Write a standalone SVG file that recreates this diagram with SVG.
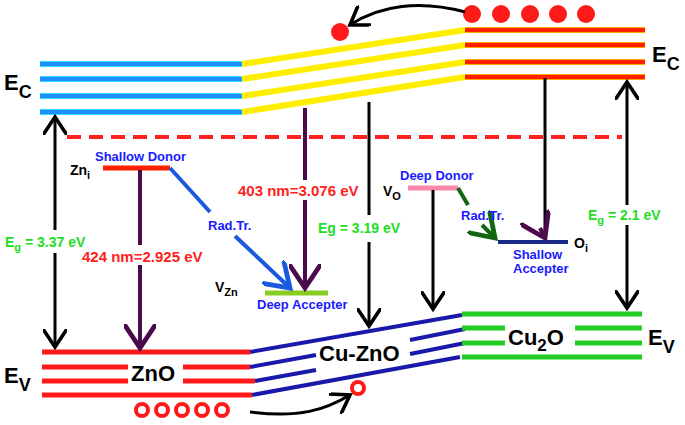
<svg xmlns="http://www.w3.org/2000/svg" width="685" height="425" viewBox="0 0 685 425">
<style>
text{font-family:"Liberation Sans",Arial,sans-serif;font-weight:bold}
.big{font-size:22px;fill:#000}
.lbl{font-size:13px;fill:#1a1aff}
.red{font-size:15px;fill:#ff2020}
.grn{font-size:14px;fill:#22dd22}
.cb{stroke:#1e90ff;stroke-width:4}
.cbo{stroke:#33ddff;stroke-width:6}
.yl{stroke:#ffee00;stroke-width:6}
.rc{stroke:#ff2000;stroke-width:4}
.rco{stroke:#ffaa00;stroke-width:6}
.vr{stroke:#ff1a1a;stroke-width:5}
.bl{stroke:#1a1aaa;stroke-width:4}
.gr{stroke:#22cc22;stroke-width:5}
.k{stroke:#000;stroke-width:3;fill:none}
.p{stroke:#4b0a4b;stroke-width:4;fill:none}
</style>
<defs>
<marker id="ak" markerWidth="8" markerHeight="8" refX="6" refY="4" orient="auto" markerUnits="strokeWidth"><path d="M0,0 L6,4 L0,8" fill="none" stroke="#000" stroke-width="1.2"/></marker>
<marker id="ap" markerWidth="8" markerHeight="8" refX="6" refY="4" orient="auto" markerUnits="strokeWidth"><path d="M0,0 L6,4 L0,8" fill="none" stroke="#4b0a4b" stroke-width="1.2"/></marker>
<marker id="ab" markerWidth="8" markerHeight="8" refX="6" refY="4" orient="auto" markerUnits="strokeWidth"><path d="M0,0 L6,4 L0,8" fill="none" stroke="#1a5adf" stroke-width="1.2"/></marker>
<marker id="ag" markerWidth="8" markerHeight="8" refX="6" refY="4" orient="auto" markerUnits="strokeWidth"><path d="M0,0 L6,4 L0,8" fill="none" stroke="#116611" stroke-width="1.2"/></marker>
</defs>
<rect width="685" height="425" fill="#fff"/>
<g id="zno-cb">
<g class="cbo"><line x1="40" y1="64" x2="242" y2="64"/><line x1="40" y1="79" x2="242" y2="79"/><line x1="40" y1="96" x2="242" y2="96"/><line x1="40" y1="112" x2="242" y2="112"/></g>
<g class="cb"><line x1="40" y1="64" x2="242" y2="64"/><line x1="40" y1="79" x2="242" y2="79"/><line x1="40" y1="96" x2="242" y2="96"/><line x1="40" y1="112" x2="242" y2="112"/></g>
<text class="big" x="4" y="90">E<tspan font-size="18" dy="8">C</tspan></text>
</g>
<g id="cuzno-cb" class="yl"><line x1="242" y1="64" x2="465" y2="30"/><line x1="242" y1="79" x2="465" y2="45"/><line x1="242" y1="96" x2="465" y2="62"/><line x1="242" y1="112" x2="465" y2="77"/></g>
<g id="cu2o-cb">
<g class="rco"><line x1="465" y1="30" x2="645" y2="30"/><line x1="465" y1="45" x2="645" y2="45"/><line x1="465" y1="62" x2="645" y2="62"/><line x1="465" y1="77" x2="645" y2="77"/></g>
<g class="rc"><line x1="465" y1="30" x2="645" y2="30"/><line x1="465" y1="45" x2="645" y2="45"/><line x1="465" y1="62" x2="645" y2="62"/><line x1="465" y1="77" x2="645" y2="77"/></g>
<text class="big" x="652" y="62">E<tspan font-size="18" dy="8">C</tspan></text>
</g>
<g id="fermi"><line x1="67" y1="137" x2="622" y2="137" stroke="#ff2020" stroke-width="4" stroke-dasharray="14,8"/></g>
<g id="zno-vb">
<g class="vr"><line x1="42" y1="352" x2="250" y2="352"/><line x1="42" y1="367" x2="128" y2="367"/><line x1="183" y1="367" x2="250" y2="367"/><line x1="42" y1="381" x2="128" y2="381"/><line x1="183" y1="381" x2="255" y2="381"/><line x1="42" y1="395" x2="252" y2="395"/></g>
<text class="big" x="131" y="381">ZnO</text>
<text class="big" x="4" y="383">E<tspan font-size="18" dy="8">V</tspan></text>
</g>
<g id="cuzno-vb">
<g class="bl"><line x1="250" y1="352" x2="462" y2="315"/><line x1="250" y1="367" x2="316" y2="355"/><line x1="410" y1="340" x2="465" y2="329"/><line x1="255" y1="381" x2="316" y2="370"/><line x1="410" y1="354" x2="465" y2="343"/><line x1="252" y1="395" x2="460" y2="357"/></g>
<text class="big" x="319" y="361">Cu-ZnO</text>
</g>
<g id="cu2o-vb">
<g class="gr"><line x1="462" y1="314" x2="642" y2="314"/><line x1="462" y1="328" x2="505" y2="328"/><line x1="575" y1="328" x2="642" y2="328"/><line x1="462" y1="343" x2="505" y2="343"/><line x1="575" y1="343" x2="642" y2="343"/><line x1="462" y1="357" x2="642" y2="357"/></g>
<text class="big" x="508" y="345">Cu<tspan font-size="17" dy="6">2</tspan><tspan dy="-6">O</tspan></text>
<text class="big" x="648" y="345">E<tspan font-size="18" dy="8">V</tspan></text>
</g>
<g id="electrons" fill="#ff1a1a"><circle cx="472" cy="14" r="9"/><circle cx="501" cy="14" r="9"/><circle cx="530" cy="14" r="9"/><circle cx="558" cy="14" r="9"/><circle cx="586" cy="14" r="9"/><circle cx="340" cy="32" r="9"/></g>
<g id="holes" fill="none" stroke="#ff1a1a" stroke-width="4"><circle cx="142" cy="410" r="6"/><circle cx="162" cy="410" r="6"/><circle cx="182" cy="410" r="6"/><circle cx="202" cy="410" r="6"/><circle cx="222" cy="410" r="6"/><circle cx="358" cy="388" r="6"/></g>
<g id="zni"><line x1="103" y1="168" x2="170" y2="168" stroke="#ff2000" stroke-width="5"/><text class="lbl" x="95" y="161">Shallow Donor</text><text x="70" y="175" font-size="14" fill="#000">Zn<tspan font-size="11" dy="4">i</tspan></text></g>
<g id="vzn"><line x1="265" y1="293" x2="328" y2="293" stroke="#88cc22" stroke-width="5"/><text x="215" y="292" font-size="14" fill="#000">V<tspan font-size="11" dy="4">Zn</tspan></text><text class="lbl" x="257" y="309">Deep Accepter</text></g>
<g id="vo"><line x1="408" y1="188" x2="458" y2="188" stroke="#ff88aa" stroke-width="5"/><text class="lbl" x="400" y="180">Deep Donor</text><text x="383" y="196" font-size="14" fill="#000">V<tspan font-size="11" dy="4">O</tspan></text></g>
<g id="oi"><line x1="498" y1="242" x2="568" y2="242" stroke="#1a2a88" stroke-width="4"/><text x="574" y="248" font-size="14" fill="#000">O<tspan font-size="11" dy="4">i</tspan></text><text class="lbl" x="513" y="259">Shallow</text><text class="lbl" x="513" y="273">Accepter</text></g>
<g id="connectors">
<path class="k" d="M465,12 C420,0 380,5 350,25" marker-end="url(#ak)"/>
<path class="k" d="M250,412 C300,418 325,410 350,395" marker-end="url(#ak)"/>
<line class="k" x1="55" y1="230" x2="55" y2="117" marker-end="url(#ak)"/>
<line class="k" x1="55" y1="253" x2="55" y2="347" marker-end="url(#ak)"/>
<line class="k" x1="627" y1="205" x2="627" y2="82" marker-end="url(#ak)"/>
<line class="k" x1="627" y1="225" x2="627" y2="308" marker-end="url(#ak)"/>
<line class="k" x1="369" y1="102" x2="369" y2="215"/>
<line class="k" x1="369" y1="242" x2="369" y2="326" marker-end="url(#ak)"/>
<line class="k" x1="433" y1="190" x2="433" y2="309" marker-end="url(#ak)"/>
<line class="k" x1="545" y1="78" x2="545" y2="238"/>
<line class="p" x1="540" y1="228" x2="545" y2="238" marker-end="url(#ap)" stroke-width="0.1"/>
<line class="p" x1="140" y1="170" x2="140" y2="245"/>
<line class="p" x1="140" y1="265" x2="140" y2="348" marker-end="url(#ap)"/>
<line class="p" x1="305" y1="108" x2="305" y2="180"/>
<line class="p" x1="305" y1="200" x2="305" y2="288" marker-end="url(#ap)"/>
<line x1="170" y1="168" x2="210" y2="212" stroke="#1a5adf" stroke-width="4"/>
<line x1="235" y1="236" x2="290" y2="288" stroke="#1a5adf" stroke-width="4" marker-end="url(#ab)"/>
<line x1="458" y1="188" x2="468" y2="205" stroke="#116611" stroke-width="4"/>
<line x1="482" y1="225" x2="495" y2="238" stroke="#116611" stroke-width="4" marker-end="url(#ag)"/>
</g>
<g id="labels">
<text class="grn" x="5" y="247">E<tspan font-size="11" dy="4">g</tspan><tspan dy="-4"> = 3.37 eV</tspan></text>
<text class="grn" x="588" y="220">E<tspan font-size="11" dy="4">g</tspan><tspan dy="-4"> = 2.1 eV</tspan></text>
<text class="grn" x="318" y="233">Eg = 3.19 eV</text>
<text class="red" x="82" y="262">424 nm=2.925 eV</text>
<text class="red" x="238" y="196">403 nm=3.076 eV</text>
<text class="lbl" x="208" y="230">Rad.Tr.</text>
<text class="lbl" x="461" y="220">Rad.Tr.</text>
</g>
</svg>
